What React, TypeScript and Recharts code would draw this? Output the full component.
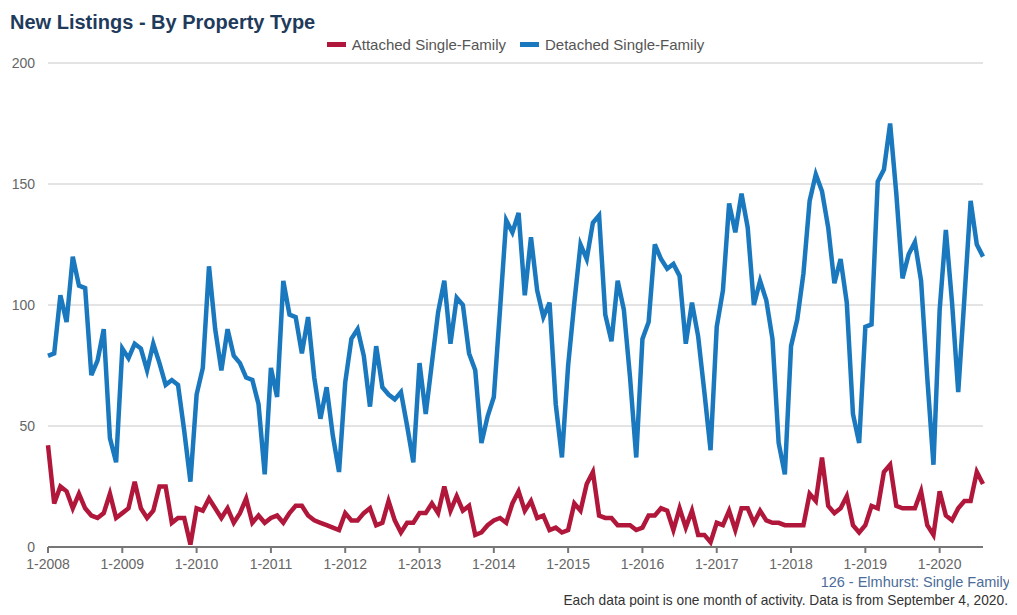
import React from 'react';
import { LineChart, Line, XAxis, YAxis, CartesianGrid } from 'recharts';

// Monthly new listings, 1-2008 through 8-2020
const START_YEAR = 2008;

const detached = [
  79, 80, 104, 93, 120, 108, 107, 71, 77, 90, 45, 35,
  82, 78, 84, 82, 73, 84, 76, 67, 69, 67, 48, 27,
  63, 74, 116, 90, 73, 90, 79, 76, 70, 69, 59, 30,
  74, 62, 110, 96, 95, 80, 95, 70, 53, 66, 46, 31,
  68, 86, 90, 79, 58, 83, 66, 63, 61, 64, 50, 35,
  76, 55, 76, 97, 110, 84, 103, 100, 80, 73, 43, 54,
  62, 98, 135, 130, 138, 104, 128, 106, 95, 101, 59, 37,
  75, 101, 125, 119, 134, 137, 96, 85, 110, 98, 70, 37,
  86, 93, 125, 119, 115, 117, 112, 84, 101, 87, 64, 40,
  91, 106, 142, 130, 146, 132, 100, 110, 102, 86, 43, 30,
  83, 94, 113, 143, 154, 147, 132, 109, 119, 101, 55, 43,
  91, 92, 151, 156, 175, 146, 111, 121, 126, 110, 70, 34,
  98, 131, 101, 64, 103, 143, 125, 120,
];

const attached = [
  42, 18, 25, 23, 16, 22, 16, 13, 12, 14, 22, 12,
  14, 16, 27, 16, 12, 15, 25, 25, 10, 12, 12, 1,
  16, 15, 20, 16, 12, 16, 10, 14, 20, 10, 13, 10,
  12, 13, 10, 14, 17, 17, 13, 11, 10, 9, 8, 7,
  14, 11, 11, 14, 16, 9, 10, 19, 11, 6, 10, 10,
  14, 14, 18, 14, 25, 15, 21, 15, 17, 5, 6, 9,
  11, 12, 10, 18, 23, 15, 19, 12, 13, 7, 8, 6,
  7, 18, 15, 26, 31, 13, 12, 12, 9, 9, 9, 7,
  8, 13, 13, 16, 15, 7, 16, 8, 15, 5, 5, 2,
  10, 9, 15, 7, 16, 16, 10, 15, 11, 10, 10, 9,
  9, 9, 9, 22, 19, 37, 17, 14, 16, 21, 9, 6,
  9, 17, 16, 31, 34, 17, 16, 16, 16, 23, 9, 5,
  23, 13, 11, 16, 19, 19, 31, 26,
];

const months = detached.map((_, i) => `${(i % 12) + 1}-${START_YEAR + Math.floor(i / 12)}`);
const yearTicks = months.filter((m) => m.startsWith('1-'));
const yTicks = [0, 50, 100, 150, 200];

const data = months.map((month, i) => ({
  month,
  attached: attached[i],
  detached: detached[i],
}));

const RED = '#b0173a';
const BLUE = '#1a78be';
const FONT = '"Liberation Sans", Arial, sans-serif';

const series = [
  { key: 'attached', name: 'Attached Single-Family', color: RED },
  { key: 'detached', name: 'Detached Single-Family', color: BLUE },
];

export default function App() {
  return (
    <div style={{ position: 'relative', width: 1001, height: 599, fontFamily: FONT }}>
      <div style={{ position: 'absolute', left: 2, top: 3, fontSize: 20, fontWeight: 'bold', color: '#1f3b5c' }}>
        New Listings - By Property Type
      </div>
      <div
        style={{
          position: 'absolute',
          left: 7,
          top: 28,
          width: 1001,
          display: 'flex',
          justifyContent: 'center',
          fontSize: 15,
          color: '#555',
        }}
      >
        {series.map((s) => (
          <span key={s.key} style={{ display: 'inline-flex', alignItems: 'center', margin: '0 7px' }}>
            <span style={{ display: 'inline-block', width: 19, height: 5, background: s.color, marginRight: 6 }} />
            {s.name}
          </span>
        ))}
      </div>
      <LineChart
        width={1001}
        height={574}
        data={data}
        margin={{ top: 55, right: 26, left: 0, bottom: 0 }}
      >
        <CartesianGrid vertical={false} stroke="#c8c8c8" />
        <XAxis
          dataKey="month"
          ticks={yearTicks}
          interval={0}
          height={35}
          tickMargin={6}
          axisLine={{ stroke: '#777', strokeWidth: 2 }}
          tickLine={{ stroke: '#777', strokeWidth: 2 }}
          tick={{ fill: '#666', fontSize: 14 }}
        />
        <YAxis
          domain={[0, 200]}
          ticks={yTicks}
          width={40}
          axisLine={false}
          tickLine={false}
          tickMargin={7}
          tick={{ fill: '#666', fontSize: 14 }}
        />
        {series.map((s) => (
          <Line
            key={s.key}
            type="linear"
            dataKey={s.key}
            name={s.name}
            stroke={s.color}
            strokeWidth={4.5}
            dot={false}
            isAnimationActive={false}
          />
        ))}
      </LineChart>
      <div style={{ position: 'absolute', right: -1, top: 566, fontSize: 14.5, color: '#4b6c99' }}>
        126 - Elmhurst: Single Family
      </div>
      <div style={{ position: 'absolute', right: 1, top: 585, fontSize: 13.75, color: '#333' }}>
        Each data point is one month of activity. Data is from September 4, 2020.
      </div>
    </div>
  );
}
